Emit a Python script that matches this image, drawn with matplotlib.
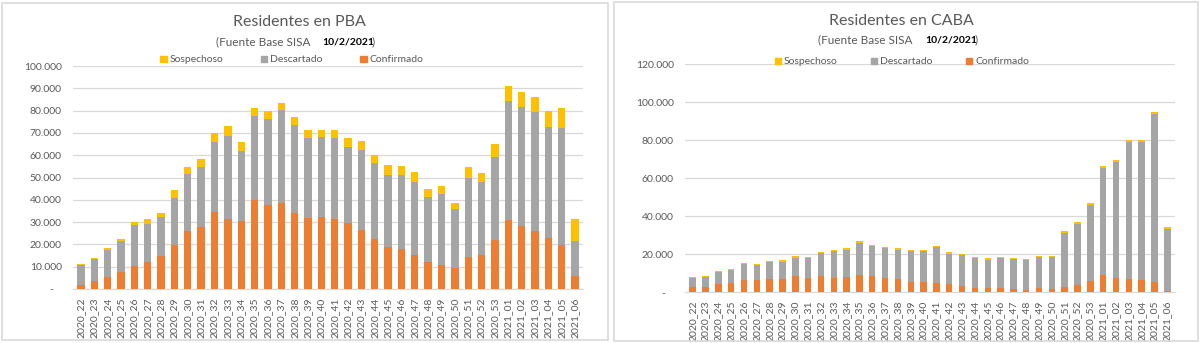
import numpy as np
import matplotlib.pyplot as plt
from matplotlib.patches import Rectangle, Patch
from matplotlib.ticker import FuncFormatter

plt.rcParams['font.family'] = ['Lato', 'DejaVu Sans']

semanas = ["2020_%d" % s for s in range(22, 54)] + ["2021_%02d" % s for s in range(1, 7)]

# PBA: casos por semana
pba_confirmado = [2000, 3400, 5400, 7500, 10400, 11900, 14600, 19600, 26000, 27600,
                  34600, 31300, 30400, 39700, 37800, 38400, 33900, 31800, 32400, 31300,
                  29700, 26400, 22400, 19000, 17900, 15100, 11900, 10900, 9400, 14300,
                  15400, 22100, 30900, 28100, 25800, 22800, 19600, 5700]
pba_descartado = [8900, 10200, 12200, 14000, 18100, 17100, 17900, 21400, 25600, 26900,
                  31400, 37100, 31700, 38100, 38600, 41900, 39700, 36000, 35800, 36200,
                  34200, 36000, 33900, 32300, 33000, 33000, 29300, 31900, 26600, 35300,
                  32400, 37300, 53400, 53400, 53600, 50000, 52800, 15800]
pba_sospechoso = [400, 400, 900, 1000, 1400, 2200, 1700, 3300, 2900, 3700,
                  4000, 4700, 3600, 3500, 3500, 3300, 3700, 3500, 3300, 3700,
                  3600, 4000, 4000, 4500, 4300, 4400, 3600, 3600, 2700, 4900,
                  4300, 5700, 6900, 6700, 6700, 6900, 8800, 9800]

# CABA: casos por semana
caba_confirmado = [2600, 2600, 4200, 4600, 6200, 6200, 6900, 6900, 8300, 7400,
                   8300, 7400, 7900, 8800, 8400, 7600, 6900, 5400, 5100, 4800,
                   4000, 3000, 2100, 2100, 2100, 1800, 1100, 1900, 1800, 2600,
                   3700, 6000, 8800, 7400, 7000, 6500, 5100, 700]
caba_descartado = [4800, 5100, 6400, 7000, 8600, 7900, 8800, 9100, 9800, 10400,
                   12100, 14100, 14300, 17200, 15900, 15600, 15400, 16200, 16400, 18900,
                   16200, 16300, 15700, 15000, 15700, 15600, 15800, 16600, 16700, 28200,
                   32000, 39700, 56400, 60800, 72000, 72500, 88500, 32300]
caba_sospechoso = [700, 700, 500, 700, 500, 500, 500, 700, 700, 700,
                   700, 500, 800, 700, 500, 700, 600, 600, 500, 600,
                   700, 700, 700, 700, 700, 500, 700, 300, 500, 1200,
                   1100, 1100, 1300, 1400, 1200, 1200, 1400, 1300]

C_CONF = "#ED7D31"
C_DESC = "#A5A5A5"
C_SOSP = "#FFC000"
C_TEXT = "#595959"
C_GRID = "#D9D9D9"

W, H = 1200, 343


def px(x, y):
    # pixel position -> figure fraction
    return x / W, 1 - y / H


def miles(v, pos):
    if v == 0:
        return "-   "
    return "{:,.0f}".format(v).replace(",", ".")


def panel(fig, rect, conf, desc, sosp, ymax, ystep, bar_w):
    ax = fig.add_axes(rect)
    x = np.arange(len(semanas))
    conf = np.array(conf)
    desc = np.array(desc)
    sosp = np.array(sosp)
    ax.bar(x, conf, width=bar_w, color=C_CONF, zorder=3)
    ax.bar(x, desc, width=bar_w, bottom=conf, color=C_DESC, zorder=3)
    ax.bar(x, sosp, width=bar_w, bottom=conf + desc, color=C_SOSP, zorder=3)

    ax.set_xlim(-0.6, len(semanas) - 0.4)
    ax.set_ylim(0, ymax)
    ax.set_yticks(np.arange(0, ymax + 1, ystep))
    ax.yaxis.set_major_formatter(FuncFormatter(miles))
    ax.set_xticks(x)
    ax.set_xticklabels(semanas, rotation=90, fontsize=7.5, color=C_TEXT)
    ax.tick_params(axis="y", labelsize=7.5, labelcolor=C_TEXT, length=0, pad=8)
    ax.tick_params(axis="x", length=0, pad=6)
    ax.grid(axis="y", color=C_GRID, linewidth=0.9, zorder=0)
    for s in ["top", "right", "left"]:
        ax.spines[s].set_visible(False)
    ax.spines["bottom"].set_color(C_GRID)
    return ax


fig = plt.figure(figsize=(12, 3.43), dpi=100)

# marcos de cada grafico
fig.patches.append(Rectangle(px(2, 340), 606 / W, 337 / H, transform=fig.transFigure,
                             fill=False, edgecolor=C_GRID, linewidth=1.2))
fig.patches.append(Rectangle(px(614, 341), 584 / W, 339 / H, transform=fig.transFigure,
                             fill=False, edgecolor=C_GRID, linewidth=1.2))

ax1 = panel(fig, [73 / W, 1 - 289 / H, 510 / W, 223 / H],
            pba_confirmado, pba_descartado, pba_sospechoso, 100000, 10000, 0.55)
ax2 = panel(fig, [685 / W, 1 - 292 / H, 490 / W, 228 / H],
            caba_confirmado, caba_descartado, caba_sospechoso, 120000, 20000, 0.5)


def encabezado(titulo, cx, ty, sub_end, sy):
    fig.text(*px(cx, ty), titulo, ha="center", va="center", fontsize=11.5, color=C_TEXT)
    fig.text(*px(sub_end, sy), "(Fuente Base SISA", ha="right", va="center",
             fontsize=8.5, color=C_TEXT)
    fig.text(*px(sub_end + 12, sy), "10/2/2021", ha="left", va="center",
             fontsize=7.5, fontweight="bold", color="black")
    fig.text(*px(sub_end + 62, sy), ")", ha="left", va="center", fontsize=8.5, color=C_TEXT)


encabezado("Residentes en PBA", 299, 22, 310, 42)
encabezado("Residentes en CABA", 901, 21, 913, 40)

handles = [Patch(color=C_SOSP, label="Sospechoso"),
           Patch(color=C_DESC, label="Descartado"),
           Patch(color=C_CONF, label="Confirmado")]
for cx, cy, sp in [(292, 60, 3.6), (902, 62, 3.2)]:
    fig.legend(handles=handles, loc="center", bbox_to_anchor=px(cx, cy), ncol=3,
               frameon=False, fontsize=7.5, labelcolor=C_TEXT, handlelength=0.6,
               handleheight=0.6, handletextpad=0.3, columnspacing=sp)

fig.savefig("out.png", dpi=100)
